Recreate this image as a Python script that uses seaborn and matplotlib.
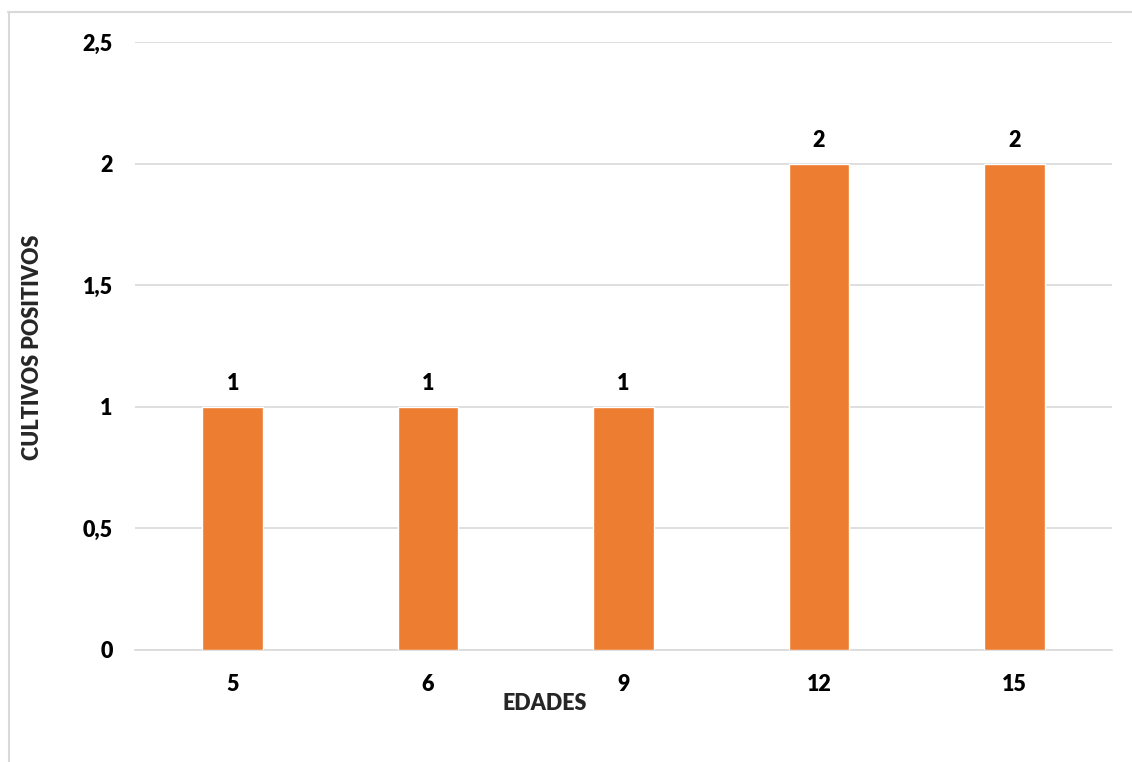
import matplotlib
matplotlib.use("Agg")
import matplotlib.pyplot as plt
from matplotlib.lines import Line2D
import seaborn as sns
import pandas as pd

# Data
edades = ["5", "6", "9", "12", "15"]
cultivos_positivos = [1, 1, 1, 2, 2]
y_ticks = [0, 0.5, 1, 1.5, 2, 2.5]
y_tick_labels = ["0", "0,5", "1", "1,5", "2", "2,5"]

df = pd.DataFrame({"EDADES": edades, "CULTIVOS POSITIVOS": cultivos_positivos})

sns.set_theme(style="white")
plt.rcParams["font.family"] = ["Lato", "DejaVu Sans"]

FS = 15.5
WEIGHT = "heavy"

W, H = 1132, 762
fig = plt.figure(figsize=(W / 100, H / 100), dpi=100)
ax = fig.add_axes([135 / W, 1 - 650 / H, (1112 - 135) / W, (650 - 42) / H])

grid_color = "#D9D9D9"
orange = "#ED7D31"

sns.barplot(data=df, x="EDADES", y="CULTIVOS POSITIVOS", color=orange,
            width=0.31, saturation=1, ax=ax, zorder=3, order=edades)

ax.set_ylim(0, 2.5)
ax.set_yticks(y_ticks)
ax.set_yticklabels(y_tick_labels)
ax.yaxis.grid(True, color=grid_color, linewidth=1.2, zorder=0)
ax.set_axisbelow(True)
for side in ["left", "right", "top"]:
    ax.spines[side].set_visible(False)
ax.spines["bottom"].set_color(grid_color)
ax.spines["bottom"].set_linewidth(1.2)
ax.tick_params(axis="both", length=0, labelsize=FS, colors="black")
ax.tick_params(axis="y", pad=16)
ax.tick_params(axis="x", pad=17)
for lbl in ax.get_xticklabels() + ax.get_yticklabels():
    lbl.set_fontweight(WEIGHT)

for container in ax.containers:
    ax.bar_label(container, labels=[str(v) for v in cultivos_positivos],
                 padding=9, fontsize=FS, fontweight=WEIGHT, color="black")

ax.set_xlabel("")
ax.set_ylabel("")
fig.text(545 / W, 1 - 703 / H, "EDADES", ha="center", va="center",
         fontsize=FS, fontweight=WEIGHT)
fig.text(33 / W, 1 - 347 / H, "CULTIVOS POSITIVOS", ha="center", va="center",
         rotation=90, fontsize=FS, fontweight=WEIGHT)

# Chart frame
fig.add_artist(Line2D([8 / W, 1], [1 - 12 / H, 1 - 12 / H], color=grid_color,
                      linewidth=1.5, transform=fig.transFigure))
fig.add_artist(Line2D([9 / W, 9 / W], [0, 1 - 12 / H], color=grid_color,
                      linewidth=1.5, transform=fig.transFigure))

fig.savefig("out.png", dpi=100)
